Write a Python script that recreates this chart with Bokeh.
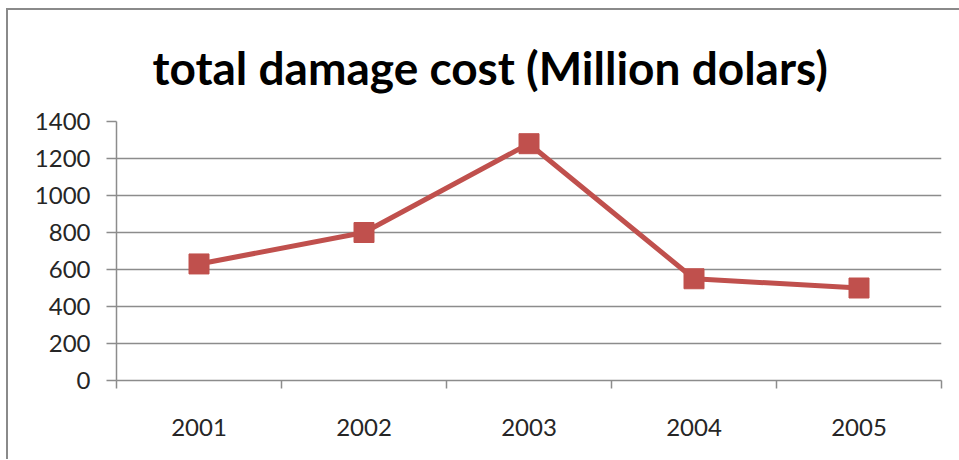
from bokeh.plotting import figure
from bokeh.models import FixedTicker, Range1d, ColumnDataSource
from bokeh.embed import file_html
from bokeh.resources import INLINE

title_text = "total damage cost (Million dolars)"
years = ["2001", "2002", "2003", "2004", "2005"]
damage = [630, 800, 1280, 550, 500]
y_ticks = [0, 200, 400, 600, 800, 1000, 1200, 1400]

xpos = [i + 0.5 for i in range(len(years))]
src = ColumnDataSource(dict(x=xpos, y=damage))

RED = "#C0504D"
GRID = "#8C8C8C"

p = figure(width=953, height=451, output_backend="svg", toolbar_location=None,
           x_range=Range1d(0, len(years)), y_range=Range1d(0, 1400),
           min_border_left=108, min_border_right=20, min_border_top=111, min_border_bottom=81,
           styles={"margin-left": "6px", "margin-top": "8px",
                   "border-left": "2px solid #8A8A8A", "border-top": "2px solid #8A8A8A"})

p.title.text = title_text
p.title.align = "left"
p.title.offset = 36
p.title.text_font = "Lato"
p.title.text_font_style = "bold"
p.title.text_font_size = "46px"
p.title.text_color = "#000000"
p.title.standoff = 54

p.outline_line_color = None
p.background_fill_color = "white"
p.border_fill_color = "white"

p.line("x", "y", source=src, line_color=RED, line_width=5)
p.scatter("x", "y", source=src, marker="square", size=20, fill_color=RED, line_color=RED)

# x axis
xt = FixedTicker(ticks=xpos, minor_ticks=list(range(len(years) + 1)))
p.xaxis.ticker = xt
p.xaxis.major_label_overrides = {x: y for x, y in zip(xpos, years)}
p.xaxis.major_tick_out = 0
p.xaxis.major_tick_in = 0
p.xaxis.minor_tick_out = 8
p.xaxis.minor_tick_in = 0
p.xaxis.minor_tick_line_color = GRID
p.xaxis.minor_tick_line_width = 1.5
p.xaxis.major_label_standoff = 30
p.xgrid.visible = False

# y axis
p.yaxis.ticker = FixedTicker(ticks=y_ticks)
p.yaxis.major_tick_out = 10
p.yaxis.major_tick_in = 0
p.yaxis.minor_tick_line_color = None
p.yaxis.major_tick_line_color = GRID
p.yaxis.major_tick_line_width = 1.5
p.yaxis.major_label_standoff = 16
p.ygrid.grid_line_color = GRID
p.ygrid.grid_line_width = 1.5

for ax in (p.xaxis, p.yaxis):
    ax.axis_line_color = GRID
    ax.axis_line_width = 1.5
    ax.major_label_text_font = "Lato"
    ax.major_label_text_font_size = "24px"
    ax.major_label_text_color = "#262626"

open("out.html", "w").write(file_html(p, INLINE))
